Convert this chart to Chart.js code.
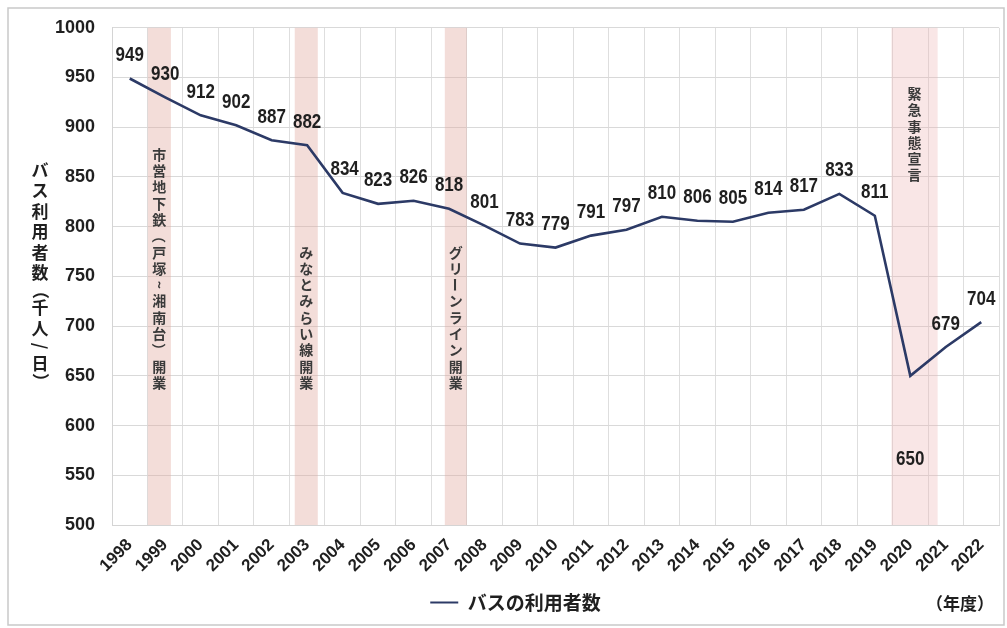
<!DOCTYPE html>
<html lang="ja">
<head>
<meta charset="utf-8">
<script src="https://cdn.jsdelivr.net/npm/chart.js@4.4.1/dist/chart.umd.min.js"></script>
<style>
  html, body { margin: 0; padding: 0; background: #ffffff; }
  #wrap { width: 1007px; height: 628px; }
  canvas { display: block; }
</style>
</head>
<body>
<div id="wrap"><canvas id="chart" width="1007" height="628"></canvas></div>
<script>
// 年度
const years = ['1998', '1999', '2000', '2001', '2002', '2003', '2004', '2005', '2006', '2007',
               '2008', '2009', '2010', '2011', '2012', '2013', '2014', '2015', '2016', '2017',
               '2018', '2019', '2020', '2021', '2022'];
// バス利用者数（千人/日）
const riders = [949, 930, 912, 902, 887, 882, 834, 823, 826, 818,
                801, 783, 779, 791, 797, 810, 806, 805, 814, 817,
                833, 811, 650, 679, 704];
const seriesName = 'バスの利用者数';
const yAxisTitle = 'バス利用者数（千人/日）';
const xAxisUnit = '（年度）';

// 出来事（期間は年度単位）
const eventNames = ['市営地下鉄（戸塚~湘南台）開業', 'みなとみらい線開業', 'グリーンライン開業', '緊急事態宣言'];
const eventFrom  = [1998.51, 2002.65, 2006.88, 2019.47];
const eventTo    = [1999.16, 2003.30, 2007.50, 2020.77];

const NUM_FONT = "'Liberation Sans', 'DejaVu Sans', sans-serif";
const JP_FONT = "'Noto Sans CJK JP', 'Noto Sans', sans-serif";
const LINE_COLOR = '#2c3a66';
const TEXT_COLOR = '#1f1f1f';

// 縦書きで回転させる文字
const ROTATED = new Set(['（', '）', '(', ')', '~', '〜', '～', 'ー', '/', '／', '-']);
const COMPACT = new Set(['（', '）', '/', '／']);

function drawVertical(ctx, text, x, y, advance, anchor, compact) {
  const chars = Array.from(text);
  const step = ch => (compact && COMPACT.has(ch)) ? advance * 0.72 : advance;
  const total = chars.reduce((s, ch) => s + step(ch), 0);
  let cy = anchor === 'bottom' ? y - total : y;
  ctx.textAlign = 'center';
  ctx.textBaseline = 'middle';
  for (const ch of chars) {
    const a = step(ch);
    const mid = cy + a / 2;
    if (ROTATED.has(ch)) {
      ctx.save();
      ctx.translate(x, mid);
      ctx.rotate(Math.PI / 2);
      ctx.fillText(ch, 0, 0);
      ctx.restore();
    } else {
      ctx.fillText(ch, x, mid);
    }
    cy += a;
  }
}

// 外枠
const framePlugin = {
  id: 'frame',
  beforeDraw(chart) {
    const { ctx, width, height } = chart;
    ctx.save();
    ctx.fillStyle = '#ffffff';
    ctx.fillRect(0, 0, width, height);
    ctx.strokeStyle = '#c9c9c9';
    ctx.lineWidth = 1.5;
    ctx.strokeRect(8, 8, width - 11, height - 11);
    ctx.restore();
  }
};

// 出来事の帯と縦書きラベル
const eventPlugin = {
  id: 'events',
  beforeDatasetsDraw(chart, args, opts) {
    const { ctx, chartArea, scales } = chart;
    const x = scales.x, y = scales.y;
    const base = Number(years[0]);
    ctx.save();
    eventNames.forEach((name, i) => {
      const x0 = x.getPixelForValue(eventFrom[i] - base);
      const x1 = x.getPixelForValue(eventTo[i] - base);
      ctx.fillStyle = opts.fills[i];
      ctx.fillRect(x0, chartArea.top, x1 - x0, chartArea.bottom - chartArea.top);
      ctx.fillStyle = '#3a3a3a';
      ctx.font = "bold 14px " + JP_FONT;
      drawVertical(ctx, name, (x0 + x1) / 2, y.getPixelForValue(opts.levels[i]), 16.3, opts.anchors[i], false);
    });
    ctx.restore();
  }
};

// 値ラベル（やや縦長の数字）
const valueLabelPlugin = {
  id: 'valueLabels',
  afterDatasetsDraw(chart, args, opts) {
    const { ctx } = chart;
    const meta = chart.getDatasetMeta(0);
    const sx = 0.85;
    ctx.save();
    ctx.font = "bold 20px " + NUM_FONT;
    ctx.fillStyle = TEXT_COLOR;
    ctx.textAlign = 'center';
    ctx.textBaseline = 'middle';
    meta.data.forEach((pt, i) => {
      const dy = opts.below.includes(i) ? opts.belowOffset : -opts.offset;
      ctx.save();
      ctx.translate(pt.x + (opts.dx[i] || 0), pt.y + dy);
      ctx.scale(sx, 1);
      ctx.fillText(String(riders[i]), 0, 0);
      ctx.restore();
    });
    ctx.restore();
  }
};

// 縦書きの軸タイトルと単位
const axisTextPlugin = {
  id: 'axisText',
  afterDraw(chart) {
    const { ctx, chartArea } = chart;
    ctx.save();
    ctx.fillStyle = TEXT_COLOR;
    ctx.font = "bold 17px " + JP_FONT;
    drawVertical(ctx, yAxisTitle, 40, 160, 20.5, 'top', true);
    ctx.font = "bold 17px " + JP_FONT;
    ctx.textAlign = 'right';
    ctx.textBaseline = 'middle';
    ctx.fillText(xAxisUnit, chartArea.right - 5, 604);
    ctx.restore();
  }
};

new Chart(document.getElementById('chart'), {
  type: 'line',
  data: {
    labels: years,
    datasets: [{
      label: seriesName,
      data: riders,
      borderColor: LINE_COLOR,
      backgroundColor: LINE_COLOR,
      borderWidth: 2.6,
      pointRadius: 0,
      tension: 0
    }]
  },
  options: {
    responsive: false,
    animation: false,
    devicePixelRatio: 1,
    layout: { padding: { left: 32, right: 8, top: 26, bottom: 6 } },
    plugins: {
      legend: {
        position: 'bottom',
        labels: {
          boxWidth: 28,
          boxHeight: 2,
          padding: 10,
          color: TEXT_COLOR,
          font: { family: JP_FONT, size: 19, weight: 'bold' },
          generateLabels(chart) {
            const items = Chart.defaults.plugins.legend.labels.generateLabels(chart);
            items.forEach(it => { it.lineWidth = 0; it.fillStyle = LINE_COLOR; });
            return items;
          }
        }
      },
      tooltip: { enabled: false },
      events: {
        fills: ['rgba(226,170,160,0.4)', 'rgba(226,170,160,0.4)', 'rgba(226,170,160,0.4)', 'rgba(236,180,180,0.33)'],
        anchors: ['bottom', 'bottom', 'bottom', 'top'],
        levels: [635, 635, 635, 942]
      },
      valueLabels: {
        offset: 23,
        below: [22],
        belowOffset: 84,
        dx: { 6: 2 }
      }
    },
    scales: {
      x: {
        offset: true,
        grid: { offset: true, color: '#dedede', lineWidth: 1, drawTicks: false },
        border: { color: '#d4d4d4' },
        ticks: {
          minRotation: 45,
          maxRotation: 45,
          padding: 10,
          color: TEXT_COLOR,
          font: { family: NUM_FONT, size: 17, weight: 'bold' }
        },
        afterFit(scale) { scale.height = 58; }
      },
      y: {
        min: 500,
        max: 1000,
        grid: { color: '#d9d9d9', lineWidth: 1, drawTicks: false },
        border: { color: '#d4d4d4' },
        ticks: {
          stepSize: 50,
          padding: 17,
          color: TEXT_COLOR,
          font: { family: NUM_FONT, size: 18, weight: 'bold' },
          callback: v => String(v)
        },
        afterFit(scale) { scale.width = 80; }
      }
    }
  },
  plugins: [framePlugin, eventPlugin, valueLabelPlugin, axisTextPlugin]
});
</script>
</body>
</html>
